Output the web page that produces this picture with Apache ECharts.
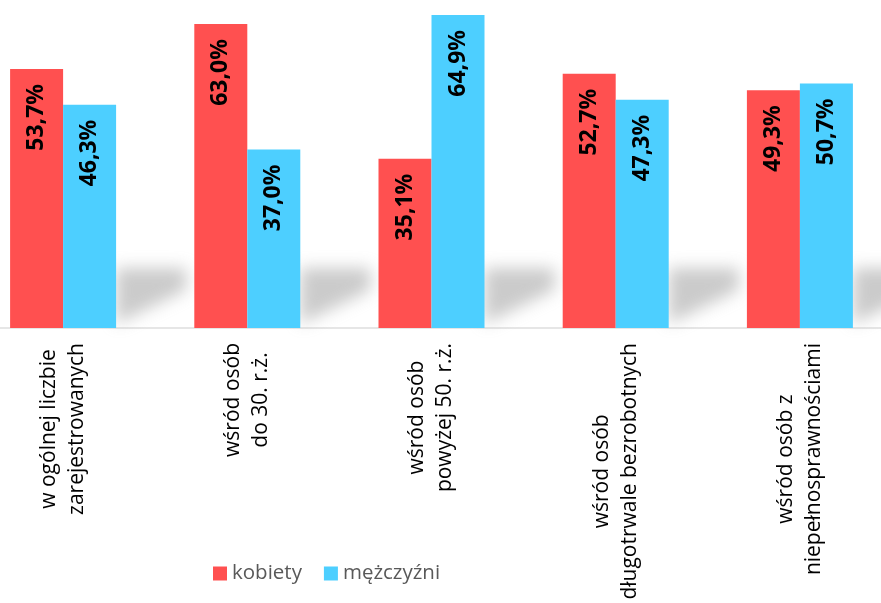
<!DOCTYPE html>
<html>
<head>
<meta charset="utf-8">
<script src="https://cdn.jsdelivr.net/npm/echarts@6/dist/echarts.min.js"></script>
<style>
html,body{margin:0;padding:0;background:#fff;}
#chart{width:881px;height:603px;}
</style>
</head>
<body>
<div id="chart"></div>
<script>
const categories = [
  'w ogólnej liczbie\nzarejestrowanych',
  'wśród osób\ndo 30. r.ż.',
  'wśród osób\npowyżej 50. r.ż.',
  'wśród osób\ndługotrwale bezrobotnych',
  'wśród osób z\nniepełnosprawnościami'
];
const seriesNames = ['kobiety', 'mężczyźni'];
const kobiety = [53.7, 63.0, 35.1, 52.7, 49.3];
const mezczyzni = [46.3, 37.0, 64.9, 47.3, 50.7];

const FONT = "'Open Sans', 'Noto Sans', sans-serif";
const BAR_W = 53;

const chart = echarts.init(document.getElementById('chart'), null, {renderer: 'canvas'});

const labelOpt = {
  show: true,
  position: 'insideTop',
  distance: 15,
  rotate: 90,
  align: 'right',
  verticalAlign: 'middle',
  color: '#000',
  fontFamily: FONT,
  fontWeight: 'bold',
  fontSize: 23,
  formatter: p => p.value.toFixed(1).replace('.', ',') + '%'
};

chart.setOption({
  animation: false,
  backgroundColor: '#fff',
  grid: {left: -29, right: -11, top: 0, bottom: 275, containLabel: false, outerBoundsMode: 'none'},
  legend: {
    data: seriesNames,
    left: 213,
    top: 563,
    padding: 0,
    itemWidth: 14,
    itemHeight: 14,
    itemGap: 22,
    icon: 'rect',
    textStyle: {color: '#595959', fontSize: 20.5, fontFamily: FONT}
  },
  xAxis: {
    type: 'category',
    data: categories,
    axisLine: {show: true, lineStyle: {color: '#e6e6e6', width: 2}},
    axisTick: {show: false},
    axisLabel: {
      interval: 0,
      rotate: 90,
      margin: 15,
      formatter: v => v.split('\n').map(s => '{a|' + s + '}').join('\n'),
      rich: {a: {fontSize: 21, lineHeight: 28, align: 'center', color: '#000', fontFamily: FONT}}
    }
  },
  yAxis: {type: 'value', min: 0, max: 68, show: false, splitLine: {show: false}},
  series: [
    {
      type: 'custom',
      name: 'cien',
      silent: true,
      z: 1,
      data: categories.map((c, i) => [i, 0]),
      renderItem: (params, api) => {
        const p = api.coord([api.value(0), 0]);
        const R = p[0] + BAR_W;
        const B = p[1];
        const OFF = 2000;
        return {
          type: 'polygon',
          shape: {points: [[R - OFF, B - 4], [R - OFF, B - 60], [R + 70 - OFF, B - 60], [R + 70 - OFF, B - 38]]},
          style: {fill: '#cccccc', shadowBlur: 16, shadowColor: 'rgba(185,185,185,0.75)', shadowOffsetX: OFF, shadowOffsetY: 0}
        };
      }
    },
    {
      name: seriesNames[0], type: 'bar', data: kobiety, barWidth: BAR_W, barGap: '0%', z: 3,
      itemStyle: {color: '#FF5050'}, label: labelOpt
    },
    {
      name: seriesNames[1], type: 'bar', data: mezczyzni, barWidth: BAR_W, barGap: '0%', z: 3,
      itemStyle: {color: '#4DCFFF'}, label: labelOpt
    }
  ]
});
</script>
</body>
</html>
